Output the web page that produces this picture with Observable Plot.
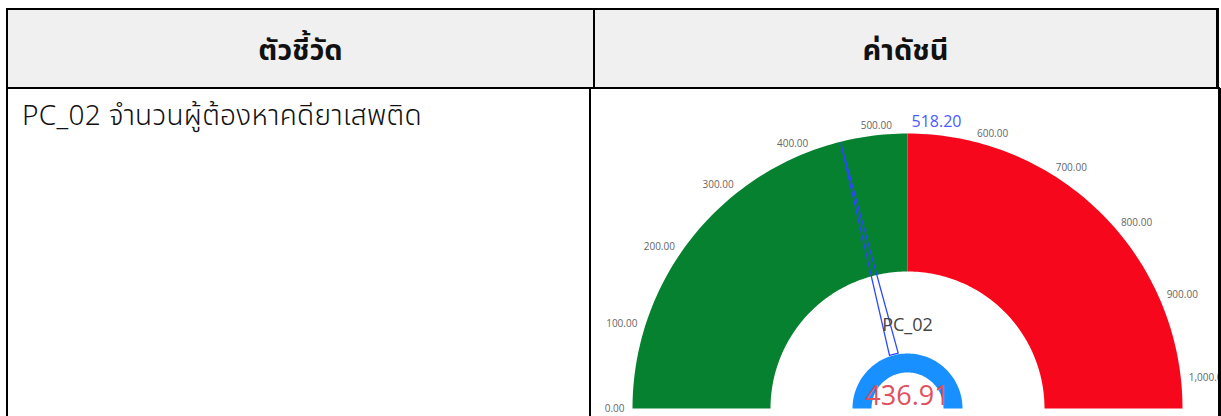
<!DOCTYPE html>
<html>
<head>
<meta charset="utf-8">
<script src="https://cdn.jsdelivr.net/npm/d3@7"></script>
<script src="https://cdn.jsdelivr.net/npm/@observablehq/plot@0.6"></script>
<style>
  html, body { margin: 0; padding: 0; background: #fff; }
  body { width: 1221px; height: 416px; overflow: hidden; position: relative;
         font-family: "Noto Sans Thai", "Leelawadee UI", Tahoma, "Noto Sans", sans-serif; }
  .b { position: absolute; background: #000; }
  .hdr { position: absolute; background: #f0f0f0; }
  .ht { position: absolute; font-weight: bold; font-size: 29px; color: #111; text-align: center; line-height: 1; }
  .cell { position: absolute; font-size: 28px; font-weight: 300; color: #111; line-height: 1; white-space: nowrap; letter-spacing: 0.3px; }
  #gauge { position: absolute; left: 597px; top: 96px; }
</style>
</head>
<body>
<div class="hdr" style="left:8px;top:10px;width:1208px;height:77px;"></div>
<!-- header borders -->
<div class="b" style="left:6px;top:8px;width:1213px;height:2px;"></div>
<div class="b" style="left:6px;top:8px;width:2px;height:408px;"></div>
<div class="b" style="left:6px;top:87px;width:1214px;height:2px;"></div>
<div class="b" style="left:593px;top:8px;width:2px;height:80px;"></div>
<div class="b" style="left:1216px;top:8px;width:3px;height:80px;"></div>
<!-- body borders -->
<div class="b" style="left:589px;top:88px;width:2px;height:328px;"></div>

<div class="ht" id="h1" style="left:8px;width:585px;top:37px;"></div>
<div class="ht" id="h2" style="left:595px;width:621px;top:37px;"></div>
<div class="cell" id="c1" style="left:22px;top:103px;"></div>
<div id="gauge"></div>
<div class="b" style="left:1218px;top:88px;width:3px;height:328px;"></div>

<script>
// ---- data ----
const headers = ["ตัวชี้วัด", "ค่าดัชนี"];
const indicatorName = "PC_02 จำนวนผู้ต้องหาคดียาเสพติด";
const indicatorCode = "PC_02";
const gaugeMin = 0;
const gaugeMax = 1036.40;
const target = 518.20;
const actual = 436.91;
const bandFrom = [0, 518.20];
const bandTo = [518.20, 1036.40];
const bandColors = ["#058130", "#f7071c"];
const tickValues = [0, 100, 200, 300, 400, 500, 600, 700, 800, 900, 1000];
const tickLabels = ["0.00", "100.00", "200.00", "300.00", "400.00", "500.00", "600.00", "700.00", "800.00", "900.00", "1,000.00"];

document.getElementById("h1").textContent = headers[0];
document.getElementById("h2").textContent = headers[1];
document.getElementById("c1").textContent = indicatorName;

// ---- geometry helpers (value -> angle) ----
const ang = d3.scaleLinear().domain([gaugeMin, gaugeMax]).range([Math.PI, 0]);
const R_OUT = 275, R_IN = 137, R_LAB = 283;
function arcPts(v0, v1, r0, r1) {
  const n = 90, pts = [];
  for (let i = 0; i <= n; i++) { const a = ang(v0 + (v1 - v0) * i / n); pts.push({x: r1 * Math.cos(a), y: r1 * Math.sin(a)}); }
  for (let i = n; i >= 0; i--) { const a = ang(v0 + (v1 - v0) * i / n); pts.push({x: r0 * Math.cos(a), y: r0 * Math.sin(a)}); }
  return pts;
}
const bands = bandFrom.map((f, i) => ({from: f, to: bandTo[i], color: bandColors[i]}));
const ticks = tickValues.map((v, i) => ({v, label: tickLabels[i], x: R_LAB * Math.cos(ang(v)), y: R_LAB * Math.sin(ang(v))}));
const na = ang(actual), perp = na + Math.PI / 2;
const needle = [
  {x: 273 * Math.cos(na), y: 273 * Math.sin(na)},
  {x: 56 * Math.cos(na) + 4.5 * Math.cos(perp), y: 56 * Math.sin(na) + 4.5 * Math.sin(perp)},
  {x: 56 * Math.cos(na) - 4.5 * Math.cos(perp), y: 56 * Math.sin(na) - 4.5 * Math.sin(perp)},
  {x: 273 * Math.cos(na), y: 273 * Math.sin(na)}
];
const ta = ang(target);

const chart = Plot.plot({
  width: 620, height: 320,
  margin: 0,
  x: {domain: [-310, 310], range: [0, 620], axis: null},
  y: {domain: [-8, 312], range: [320, 0], axis: null},
  style: {fontFamily: "'Open Sans', 'Noto Sans', sans-serif", background: "transparent", overflow: "visible"},
  marks: [
    ...bands.map(b => Plot.line(arcPts(b.from, b.to, R_IN, R_OUT), {x: "x", y: "y", fill: b.color, stroke: "none"})),
    Plot.line(arcPts(gaugeMin, gaugeMax, 36, 55), {x: "x", y: "y", fill: "#1890ff", stroke: "none"}),
    Plot.line(needle, {x: "x", y: "y", stroke: "#2a48ff", strokeWidth: 1.3, fill: "none"}),
    Plot.text(ticks.filter(d => d.v < target), {x: "x", y: "y", text: "label", textAnchor: "end", fontSize: 10, fill: "#666"}),
    Plot.text(ticks.filter(d => d.v >= target), {x: "x", y: "y", text: "label", textAnchor: "start", fontSize: 10, fill: "#666"}),
    Plot.text([target], {x: () => 287 * Math.cos(ta) + 4, y: () => 287 * Math.sin(ta), text: d => d3.format(".2f")(d), textAnchor: "start", fontSize: 16, fill: "#4a5cff"}),
    Plot.text([indicatorCode], {x: () => 0, y: () => 83, text: d => d, fontSize: 18, fill: "#444"}),
    Plot.text([actual], {x: () => 0, y: () => 12, text: d => d3.format(".2f")(d), fontSize: 27, fill: "#e0505f"})
  ]
});
document.getElementById("gauge").appendChild(chart);
</script>
</body>
</html>
